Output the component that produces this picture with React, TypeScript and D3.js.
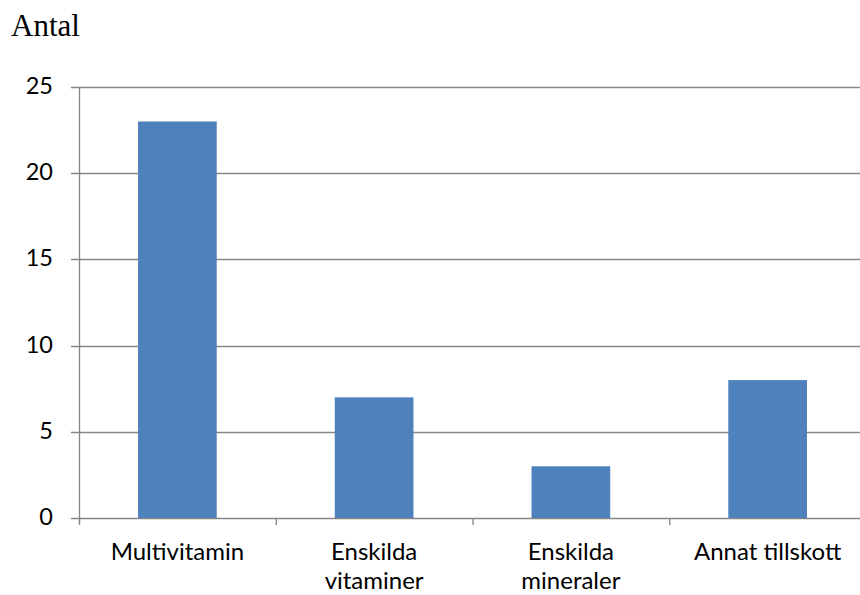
import React from "react";
import * as d3 from "d3";

const categories: string[][] = [
  ["Multivitamin"],
  ["Enskilda", "vitaminer"],
  ["Enskilda", "mineraler"],
  ["Annat tillskott"],
];
const values: number[] = [23, 7, 3, 8];
const yTicks: number[] = [0, 5, 10, 15, 20, 25];
const yTitle = "Antal";

const W = 860;
const H = 595;
const left = 79;
const right = 866;
const top = 87;
const bottom = 518;

export default function App() {
  const keys = categories.map((c) => c.join(" "));
  const x = d3.scaleBand<string>().domain(keys).range([left, right]).paddingInner(0.6).paddingOuter(0.3);
  const y = d3.scaleLinear().domain([0, 25]).range([bottom, top]);
  const step = (right - left) / keys.length;
  const boundaries = d3.range(keys.length + 1).map((i) => left + i * step);
  const axisColor = "#868686";
  const labelFont = "Lato, 'Open Sans', sans-serif";

  return (
    <svg
      width={W}
      height={H}
      style={{ position: "absolute", left: 0, top: 0, background: "#fff" }}
    >
      <text x={11} y={36} fontFamily="'Liberation Serif', 'Times New Roman', serif" fontSize={31} fill="#000">
        {yTitle}
      </text>
      {yTicks.map((t) => (
        <g key={t}>
          <line x1={71} x2={right} y1={Math.round(y(t)) + 0.5} y2={Math.round(y(t)) + 0.5} stroke={axisColor} strokeWidth={1.3} />
          <text x={53} y={y(t) + 7} textAnchor="end" fontFamily={labelFont} fontSize={23.5} fill="#000">
            {t}
          </text>
        </g>
      ))}
      <line x1={left + 0.5} x2={left + 0.5} y1={top} y2={bottom + 6} stroke={axisColor} strokeWidth={1.3} />
      {boundaries.map((b, i) => (
        <line key={i} x1={b + 0.5} x2={b + 0.5} y1={bottom} y2={bottom + 7} stroke={axisColor} strokeWidth={1.3} />
      ))}
      {keys.map((k, i) => (
        <rect key={k} x={x(k)} y={y(values[i])} width={x.bandwidth()} height={bottom - y(values[i])} fill="#4F81BD" />
      ))}
      {categories.map((lines, i) => (
        <text key={i} textAnchor="middle" fontFamily={labelFont} fontSize={24} fill="#000">
          {lines.map((ln, j) => (
            <tspan key={j} x={(x(keys[i]) ?? 0) + x.bandwidth() / 2} y={560 + j * 29}>
              {ln}
            </tspan>
          ))}
        </text>
      ))}
    </svg>
  );
}
